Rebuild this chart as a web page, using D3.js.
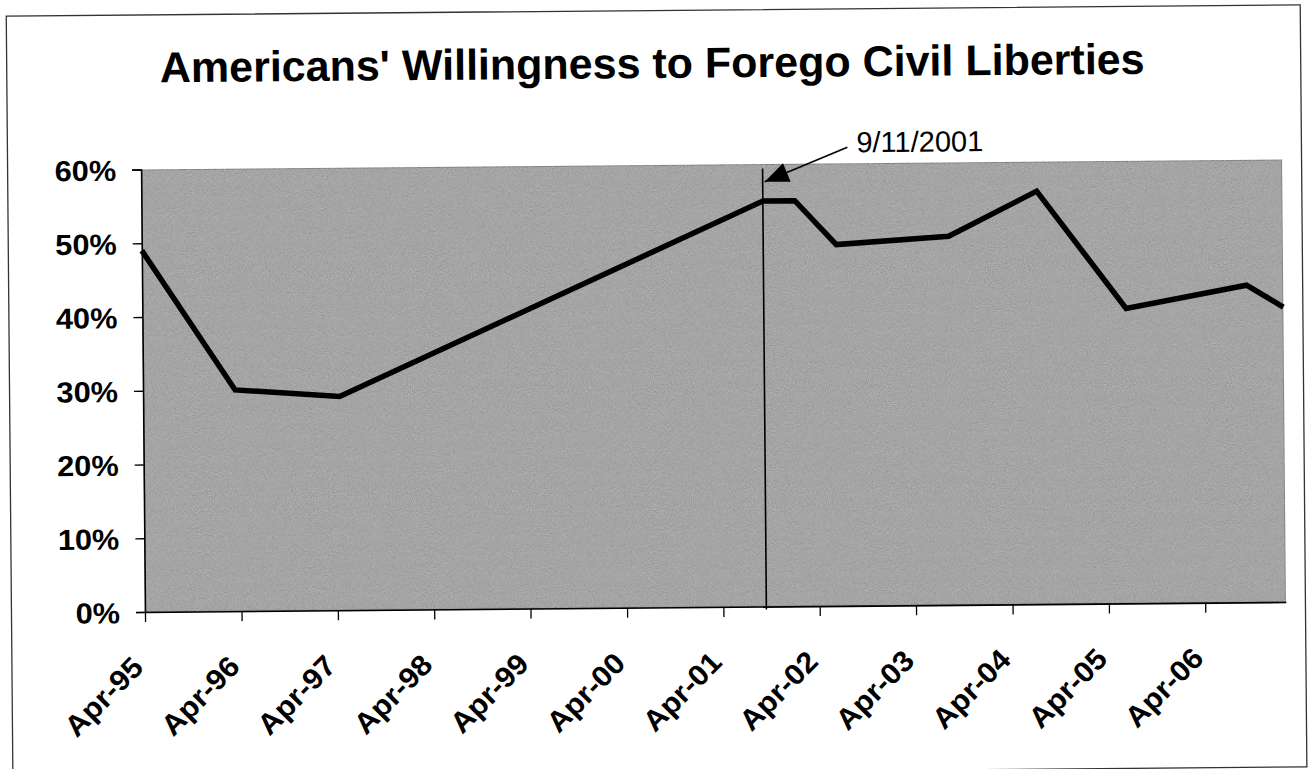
<!DOCTYPE html>
<html>
<head>
<meta charset="utf-8">
<script src="https://cdn.jsdelivr.net/npm/d3@7"></script>
<style>
  body { margin: 0; background: #fff; }
  svg { display: block; }
  text { font-family: "Liberation Sans", Arial, sans-serif; fill: #000; }
</style>
</head>
<body>
<svg id="chart" width="1313" height="769"></svg>
<script>
// ---- data ----
const chartTitle = "Americans' Willingness to Forego Civil Liberties";
const surveyDates = ["1995-04-01", "1996-03-15", "1997-04-15", "2001-09-12", "2002-01-10",
                     "2002-06-15", "2003-08-15", "2004-07-15", "2005-06-15", "2006-09-15", "2007-02-01"];
const willingPct = [49, 30, 29, 55, 55, 49, 50, 56, 40, 43, 40];
const yTickValues = [0, 10, 20, 30, 40, 50, 60];
const xTickDates = ["1995-04-01", "1996-04-01", "1997-04-01", "1998-04-01", "1999-04-01", "2000-04-01",
                    "2001-04-01", "2002-04-01", "2003-04-01", "2004-04-01", "2005-04-01", "2006-04-01"];
const xTickLabels = ["Apr-95", "Apr-96", "Apr-97", "Apr-98", "Apr-99", "Apr-00",
                     "Apr-01", "Apr-02", "Apr-03", "Apr-04", "Apr-05", "Apr-06"];
const eventDate = "2001-09-11";
const eventLabel = "9/11/2001";

// ---- layout ----
const W = 1313, H = 769;
const plot = { left: 143, right: 1284, top: 165, bottom: 607.5 };
const labelFont = 29, labelStretch = 1.06;
const parse = d3.utcParse("%Y-%m-%d");

const svg = d3.select("#chart");
const defs = svg.append("defs");

// fine grain over the plot-area fill
const grain = defs.append("filter").attr("id", "grain")
  .attr("x", 0).attr("y", 0).attr("width", 1).attr("height", 1);
grain.append("feTurbulence").attr("type", "fractalNoise").attr("baseFrequency", 0.95)
  .attr("numOctaves", 2).attr("seed", 7).attr("result", "noise");
grain.append("feColorMatrix").attr("in", "noise").attr("type", "matrix")
  .attr("values", "1 0 0 0 0  1 0 0 0 0  1 0 0 0 0  0 0 0 0 0.3").attr("result", "speck");
grain.append("feComposite").attr("in", "speck").attr("in2", "SourceGraphic")
  .attr("operator", "in").attr("result", "clipped");
grain.append("feMerge").call(m => {
  m.append("feMergeNode").attr("in", "SourceGraphic");
  m.append("feMergeNode").attr("in", "clipped");
});

const arrowHead = defs.append("marker").attr("id", "arrowhead")
  .attr("viewBox", "0 0 12 10").attr("refX", 12).attr("refY", 5)
  .attr("markerWidth", 26).attr("markerHeight", 20).attr("markerUnits", "userSpaceOnUse")
  .attr("orient", "auto");
arrowHead.append("path").attr("d", "M0,0 L12,5 L0,10 Z").attr("fill", "#000");

// the whole page sits at a slight tilt
const root = svg.append("g").attr("transform", `rotate(-0.5, ${W / 2}, ${H / 2})`);

// outer frame
root.append("rect")
  .attr("x", 9.5).attr("y", 10.5).attr("width", 1294).attr("height", 762)
  .attr("fill", "#fff").attr("stroke", "#333").attr("stroke-width", 1.3);

// scales
const x = d3.scaleUtc()
  .domain([parse(surveyDates[0]), parse(surveyDates[surveyDates.length - 1])])
  .range([plot.left, plot.right]);
const y = d3.scaleLinear().domain([0, 60]).range([plot.bottom, plot.top]);

// plot area
root.append("rect")
  .attr("x", plot.left).attr("y", plot.top)
  .attr("width", plot.right - plot.left).attr("height", plot.bottom - plot.top)
  .attr("fill", "#9a9a9a").attr("stroke", "#444").attr("stroke-width", 1.2)
  .attr("filter", "url(#grain)");

// title
root.append("text")
  .attr("x", 655).attr("y", 78)
  .attr("text-anchor", "middle")
  .attr("font-size", 43).attr("font-weight", "bold")
  .text(chartTitle);

// widen axis labels slightly along their baseline
function stretchLabels(sel) {
  sel.each(function () {
    const w = this.getComputedTextLength();
    d3.select(this).attr("textLength", w * labelStretch).attr("lengthAdjust", "spacingAndGlyphs");
  });
}

// y axis
const yAxis = d3.axisLeft(y)
  .tickValues(yTickValues)
  .tickFormat(d => d + "%")
  .tickSize(9).tickPadding(16);
const gy = root.append("g").attr("transform", `translate(${plot.left},0)`).call(yAxis);
gy.select(".domain").attr("stroke", "#000").attr("stroke-width", 1.6);
gy.selectAll(".tick line").attr("stroke", "#000").attr("stroke-width", 1.3);
gy.selectAll(".tick text")
  .attr("font-family", "'Liberation Sans', Arial, sans-serif")
  .attr("font-size", labelFont).attr("font-weight", "bold").attr("fill", "#000")
  .attr("dy", "0.36em")
  .call(stretchLabels);

// x axis
const xAxis = d3.axisBottom(x)
  .tickValues(xTickDates.map(parse))
  .tickFormat((d, i) => xTickLabels[i])
  .tickSize(10).tickSizeOuter(0);
const gx = root.append("g").attr("transform", `translate(0,${plot.bottom})`).call(xAxis);
gx.select(".domain").attr("stroke", "#000").attr("stroke-width", 1.6);
gx.selectAll(".tick line").attr("stroke", "#000").attr("stroke-width", 1.3);
gx.selectAll(".tick text")
  .attr("font-family", "'Liberation Sans', Arial, sans-serif")
  .attr("font-size", labelFont).attr("font-weight", "bold").attr("fill", "#000")
  .attr("text-anchor", "end")
  .attr("dx", 0).attr("dy", 0).attr("y", 0)
  .attr("transform", "translate(-1,57) rotate(-45)")
  .call(stretchLabels);

// 9/11 marker line
const xe = x(parse(eventDate));
root.append("line")
  .attr("x1", xe).attr("x2", xe)
  .attr("y1", y(59.4)).attr("y2", plot.bottom + 3)
  .attr("stroke", "#000").attr("stroke-width", 1.6);

// series line
const line = d3.line()
  .x((d, i) => x(parse(surveyDates[i])))
  .y(d => y(d));
root.append("path")
  .datum(willingPct)
  .attr("d", line)
  .attr("fill", "none")
  .attr("stroke", "#000")
  .attr("stroke-width", 5.5)
  .attr("stroke-linejoin", "miter");

// annotation
const labelX = xe + 94, labelY = 154;
root.append("line")
  .attr("x1", labelX - 9).attr("y1", labelY - 5)
  .attr("x2", xe + 2).attr("y2", y(57.6))
  .attr("stroke", "#000").attr("stroke-width", 1.6)
  .attr("marker-end", "url(#arrowhead)");
root.append("text")
  .attr("x", labelX).attr("y", labelY)
  .attr("font-size", 29)
  .text(eventLabel);
</script>
</body>
</html>
